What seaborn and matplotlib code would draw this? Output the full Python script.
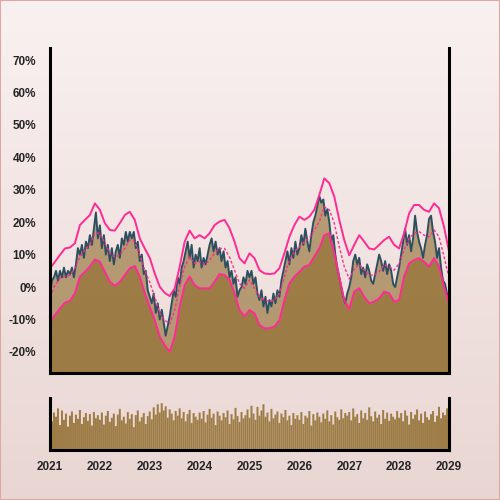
import numpy as np
import pandas as pd
import matplotlib
matplotlib.use("Agg")
import matplotlib.pyplot as plt
from matplotlib.patches import Rectangle
import seaborn as sns

# ---------------- data ----------------
# band sample times (decimal years, every 0.1 year)
band_t = 2021 + 0.1 * np.arange(81)
upper = [5.8, 7.8, 9.9, 11.9, 12.2, 13.5, 19.1, 20.7, 22.2, 25.8, 23.8, 19.7, 17.6, 17.4, 19.7, 22.2, 23.2, 20.7, 15.0, 11.9,
         9.0, 4.2, 0.1, -1.8, -2.8, -0.4, 6.3, 14.0, 17.4, 15.0, 16.0, 15.0, 16.6, 19.1, 20.2, 20.7, 18.1, 14.0, 8.9, 7.3,
         10.4, 8.9, 5.2, 4.2, 4.0, 4.2, 5.8, 10.4, 15.5, 19.1, 21.7, 20.7, 21.7, 23.8, 28.4, 33.5, 32.0, 27.9, 20.7, 14.5,
         9.8, 13.0, 16.0, 14.0, 11.9, 11.6, 13.0, 14.5, 15.5, 13.0, 11.9, 16.6, 22.7, 25.3, 25.3, 23.8, 23.2, 25.8, 24.3, 18.6,
         11.0]
middle = [-3.0, 0.6, 2.7, 3.2, 3.7, 5.8, 9.4, 11.4, 13.0, 16.6, 16.6, 13.5, 10.4, 9.2, 9.9, 11.9, 14.5, 14.0, 9.9, 5.2,
          1.5, -3.0, -8.1, -10.2, -11.4, -7.1, 0.1, 6.3, 9.2, 7.3, 7.8, 6.8, 8.3, 10.4, 11.9, 11.9, 9.2, 5.2, 1.1, -0.4,
          2.2, -0.4, -3.0, -4.0, -4.5, -4.0, -1.9, 3.2, 8.3, 10.9, 12.4, 14.0, 15.0, 17.6, 20.2, 24.8, 23.8, 19.7, 12.4, 6.3,
          2.5, 5.5, 7.0, 5.2, 3.7, 3.7, 4.7, 6.8, 6.3, 5.2, 7.3, 11.4, 15.0, 16.6, 17.1, 16.0, 15.5, 17.6, 15.5, 9.4,
          3.0]
lower = [-10.7, -8.6, -6.6, -4.8, -4.3, -1.9, 3.2, 4.7, 6.3, 8.5, 7.8, 4.7, 1.6, 0.4, 1.6, 3.7, 5.8, 6.5, 3.2, -1.9,
         -6.1, -10.2, -15.3, -17.9, -20.0, -15.3, -6.1, 0.6, 3.2, 0.6, -0.4, -0.4, -0.4, 1.6, 4.0, 3.7, 2.2, -1.9, -7.1, -9.0,
         -7.1, -8.1, -11.7, -12.7, -12.7, -12.2, -10.2, -4.0, 1.1, 3.2, 4.7, 6.3, 6.8, 9.4, 11.9, 16.0, 16.6, 10.5, 3.0, -4.0,
         -6.8, -1.4, -0.4, -3.0, -5.0, -4.5, -3.5, -1.4, -1.9, -4.5, -4.0, 3.2, 7.3, 8.3, 8.9, 7.8, 6.3, 8.9, 6.3, 0.1,
         -5.0]

# price sample times (decimal years, every 0.04 year)
price_t = 2021 + 0.04 * np.arange(201)
price = [-2.5, 2, 3, 5, 2, 5, 3, 6, 3, 5, 4, 6, 3, 7, 12, 10, 13, 9, 14, 12, 16, 13, 18, 23, 15,
         19, 12, 16, 10, 13, 8, 12, 7, 11, 13, 9, 15, 13, 17, 14, 17, 15, 17, 12, 14, 8, 10, 4, 5, -1,
         -3, -5, -2, -8, -5, -10, -7, -11, -15, -12, -9, -5, -1, -3, 3, 1, 6, 8, 11, 14, 9, 13, 6, 10, 8,
         12, 6, 9, 7, 10, 13, 15, 11, 14, 10, 12, 8, 11, 6, 8, 3, 5, 1, 3, -3, -1, 0, 3, 1, 5,
         3, 5, 1, 3, -2, -4, -1, -6, -3, -8, -4, -6, -2, -5, -1, -3, 2, 5, 8, 11, 7, 12, 9, 14, 10,
         12, 16, 13, 18, 14, 11, 16, 20, 22, 25, 28, 26, 27, 22, 24, 20, 14, 16, 10, 6, 3, 0, -3, -5, -2,
         0, 3, 8, 10, 7, 9, 4, 6, 3, 7, 5, 2, 1, 4, 7, 10, 8, 5, 8, 4, 7, 5, 1, 0, 3,
         6, 10, 14, 18, 13, 16, 11, 15, 22, 17, 14, 12, 9, 13, 16, 21, 22, 17, 14, 9, 12, 6, 2, 1, -2,
         -3]

volume = [78, 55, 72, 64, 80, 48, 76, 58, 70, 45, 66, 74, 52, 68, 60, 77, 50, 63, 71, 56, 69, 47, 73, 61, 67,
          58, 72, 49, 66, 75, 54, 62, 70, 46, 68, 79, 57, 64, 51, 73, 60, 69, 44, 67, 76, 55, 63, 71, 50, 65,
          74, 59, 82, 68, 88, 72, 90, 76, 84, 62, 78, 70, 57, 75, 66, 80, 61, 73, 55, 69, 77, 52, 71, 64, 58,
          72, 60, 75, 53, 68, 79, 62, 70, 48, 74, 66, 57, 71, 63, 76, 50, 69, 59, 81, 65, 54, 73, 61, 67, 78,
          62, 85, 70, 58, 83, 66, 76, 88, 64, 72, 55, 79, 61, 68, 74, 52, 70, 63, 77, 57, 66, 48, 71, 60, 67,
          58, 73, 50, 66, 62, 75, 47, 69, 57, 72, 64, 53, 70, 60, 76, 55, 67, 49, 74, 63, 58, 78, 61, 71, 66,
          73, 57, 80, 64, 69, 52, 76, 61, 71, 58, 82, 65, 55, 74, 62, 68, 50, 77, 60, 72, 56, 70, 64, 59, 75,
          62, 71, 55, 76, 66, 49, 73, 60, 68, 78, 57, 70, 52, 74, 63, 58, 69, 75, 54, 66, 83, 61, 72, 67, 80,
          70]

year_ticks = [2021, 2022, 2023, 2024, 2025, 2026, 2027, 2028, 2029]
pct_ticks = [-20, -10, 0, 10, 20, 30, 40, 50, 60, 70]

# ---------------- style ----------------
sns.set_style("white")
plt.rcParams["font.family"] = ["Liberation Sans", "DejaVu Sans"]

BROWN = "#8e6929"
BAR = "#9e7c46"
PINK = "#ff2a93"
SLATE = "#2f4f5f"
YMIN, YMAX = -26.5, 73.7
FS = 8.5

fig = plt.figure(figsize=(5, 5), dpi=100)

# background gradient
bg = fig.add_axes([0, 0, 1, 1], zorder=-10)
top = np.array([249, 241, 241]) / 255
bot = np.array([233, 214, 210]) / 255
grad = np.linspace(0, 1, 256)[:, None, None] * (bot - top) + top
bg.imshow(np.repeat(grad, 2, axis=1), aspect="auto", extent=[0, 1, 0, 1])
bg.set_axis_off()
fig.patches.append(Rectangle((0, 0), 1, 1, transform=fig.transFigure, fill=False,
                             edgecolor="#dca8a0", linewidth=1.5, zorder=10))

# ---------------- main panel ----------------
ax = fig.add_axes([0.1, 0.254, 0.798, 0.65])
ax.patch.set_alpha(0)
ax.fill_between(price_t, YMIN, price, color=BROWN, alpha=0.6, linewidth=0)
ax.fill_between(band_t, YMIN, lower, color=BROWN, alpha=0.6, linewidth=0)
sns.lineplot(x=price_t, y=price, ax=ax, color=SLATE, linewidth=1.4)
sns.lineplot(x=band_t, y=upper, ax=ax, color=PINK, linewidth=1.4)
sns.lineplot(x=band_t, y=lower, ax=ax, color=PINK, linewidth=1.4)
sns.lineplot(x=band_t, y=middle, ax=ax, color=PINK, linewidth=1.0, linestyle=(0, (2, 1.5)))
ax.set_xlim(2021, 2029)
ax.set_ylim(YMIN, YMAX)
ax.set_xticks([])
ax.set_yticks(pct_ticks)
ax.set_yticklabels([f"{v}%" for v in pct_ticks], fontsize=FS, fontweight="bold")
ax.tick_params(axis="y", direction="out", length=5, width=1.2, color="black", pad=5)
ax.spines["top"].set_visible(False)
for s in ["left", "right", "bottom"]:
    ax.spines[s].set_linewidth(2.2)
    ax.spines[s].set_color("black")
ax.set_xlabel("")
ax.set_ylabel("")

# ---------------- volume panel ----------------
ax2 = fig.add_axes([0.1, 0.1, 0.798, 0.104])
ax2.patch.set_alpha(0)
ax2.bar(price_t, volume, width=0.04, color=BAR, linewidth=0, snap=False)
ax2.set_xlim(2021, 2029)
ax2.set_ylim(0, 100)
ax2.set_yticks([])
ax2.set_xticks(year_ticks)
ax2.set_xticklabels([str(y) for y in year_ticks], fontsize=FS, fontweight="bold")
ax2.tick_params(axis="x", direction="out", length=5, width=1.2, color="black", pad=3)
ax2.spines["top"].set_visible(False)
for s in ["left", "right", "bottom"]:
    ax2.spines[s].set_linewidth(2.2)
    ax2.spines[s].set_color("black")
ax2.set_xlabel("")
ax2.set_ylabel("")

fig.savefig("out.png", dpi=100)
